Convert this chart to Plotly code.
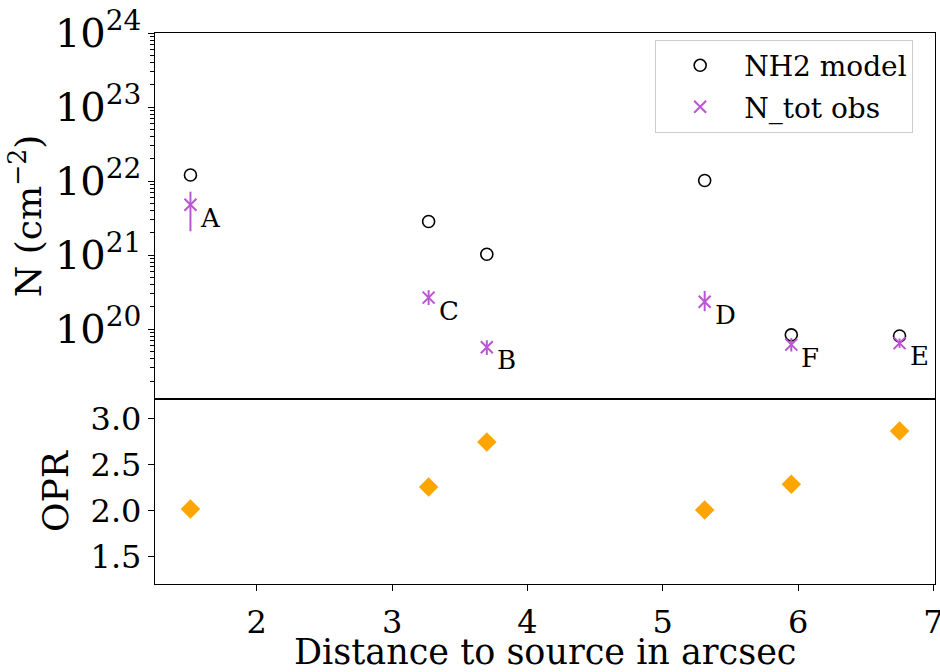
import math
import plotly.graph_objects as go

# ---- data ----
labels = ["A", "C", "B", "D", "F", "E"]
distance = [1.51, 3.27, 3.70, 5.31, 5.95, 6.75]
nh2_model = [1.21e22, 2.85e21, 1.03e21, 1.02e22, 8.4e19, 8.1e19]
ntot_obs = [4.8e21, 2.67e20, 5.7e19, 2.35e20, 6.2e19, 6.5e19]
ntot_err_plus = [2.4e21, 0.70e20, 1.4e19, 0.95e20, 1.4e19, 1.0e19]
ntot_err_minus = [2.7e21, 0.55e20, 1.2e19, 0.60e20, 1.2e19, 0.9e19]
opr = [2.02, 2.26, 2.75, 2.01, 2.29, 2.87]

FONT = "DejaVu Serif"
ORCHID = "#BA55D3"
ORANGE = "#FFA500"

fig = go.Figure()

fig.add_trace(go.Scatter(
    x=distance, y=nh2_model, mode="markers", name="NH2 model",
    marker=dict(symbol="circle-open", size=12, color="black", line=dict(width=1.6, color="black")),
    xaxis="x", yaxis="y", legendgroup="a",
))
fig.add_trace(go.Scatter(
    x=distance, y=ntot_obs, mode="markers", name="N_tot obs",
    marker=dict(symbol="x-thin", size=12, color=ORCHID, line=dict(width=2, color=ORCHID)),
    error_y=dict(type="data", symmetric=False, array=ntot_err_plus, arrayminus=ntot_err_minus,
                 color=ORCHID, thickness=2, width=0),
    xaxis="x", yaxis="y", legendgroup="b",
))
fig.add_trace(go.Scatter(
    x=distance, y=opr, mode="markers", showlegend=False,
    marker=dict(symbol="diamond", size=15, color=ORANGE),
    xaxis="x2", yaxis="y2",
))

for lab, xv, yv in zip(labels, distance, ntot_obs):
    fig.add_annotation(
        x=xv, y=math.log10(yv), xref="x", yref="y", text=lab, showarrow=False,
        xanchor="left", yanchor="middle", xshift=8, yshift=-13,
        font=dict(family=FONT, size=26, color="black"),
    )

axis_common = dict(
    showline=True, linecolor="black", linewidth=1.3, mirror=True,
    showgrid=False, zeroline=False, ticks="outside", ticklen=6, tickwidth=1.3,
    tickcolor="black", tickfont=dict(family=FONT, size=32, color="black"),
)

split = 186 / 554
TITLE_FONT = dict(family=FONT, size=36, color="black")

# x-axis title placed as paper-anchored text (below the tick labels)
fig.add_annotation(
    x=0.5, y=-0.124, xref="paper", yref="paper", text="Distance to source in arcsec",
    showarrow=False, xanchor="center", yanchor="middle", borderpad=0,
    font=dict(family=FONT, size=35, color="black"),
)

fig.update_layout(
    width=940, height=672,
    margin=dict(l=155, r=4, t=30, b=88),
    paper_bgcolor="white", plot_bgcolor="white",
    font=dict(family=FONT, color="black"),
    showlegend=True,
    legend=dict(
        x=0.972, y=0.988, xanchor="right", yanchor="top",
        bordercolor="#cccccc", borderwidth=1, bgcolor="rgba(255,255,255,0.8)",
        font=dict(family=FONT, size=28, color="black"),
        traceorder="grouped", tracegroupgap=2, itemwidth=78,
    ),
    xaxis=dict(axis_common, domain=[0, 1], range=[1.248, 7.012], anchor="y",
               showticklabels=False, ticks="", matches="x2", automargin=False),
    yaxis=dict(axis_common, domain=[split, 1], type="log", range=[19.058, 24],
               dtick=1, exponentformat="power", anchor="x",
               minor=dict(ticks="outside", ticklen=3.5, tickwidth=1, tickcolor="black", dtick="D1", showgrid=False),
               title=dict(text="N (cm<sup>−2</sup>)", font=TITLE_FONT, standoff=2)),
    xaxis2=dict(axis_common, domain=[0, 1], range=[1.248, 7.012], anchor="y2",
                dtick=1, tick0=0, ticklabeloverflow="allow", automargin=False,
                ticklabelstandoff=3),
    yaxis2=dict(axis_common, domain=[0, split], range=[1.204, 3.217], anchor="x2",
                tickvals=[1.5, 2.0, 2.5, 3.0], ticktext=["1.5", "2.0", "2.5", "3.0"],
                title=dict(text="OPR", font=TITLE_FONT, standoff=10)),
)

fig.write_html("out.html")
